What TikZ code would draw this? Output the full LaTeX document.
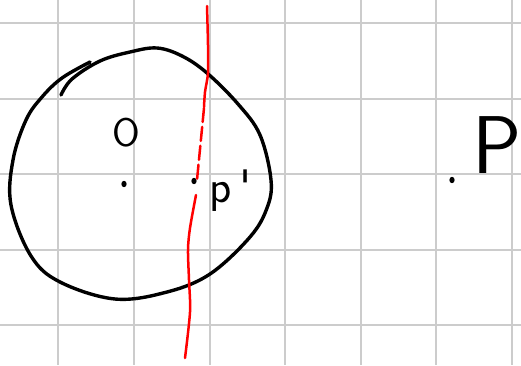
\documentclass[tikz,border=0pt]{standalone}
\usepackage{tikz}
\usetikzlibrary{positioning}
\tikzset{
  gridline/.style={draw=black!20, line width=2pt},
  outline/.style={draw=black, line width=3.4pt, line cap=round, line join=round},
  redline/.style={draw=red, line width=2.5pt, line cap=round, line join=round},
  dotmark/.style={fill=black},
  lbl/.style={inner sep=0pt, anchor=base, font=\sffamily},
}

\begin{document}
\begin{tikzpicture}[x=1pt, y=-1pt]
  \useasboundingbox[fill=white] (0,0) rectangle (521,365);

  % squared paper
  \foreach \i in {0,...,6}
    \draw[gridline] ({58.4+75.6*\i},0) -- ({58.4+75.6*\i},365);
  \foreach \j in {0,...,4}
    \draw[gridline] (0,{23+75.6*\j}) -- (521,{23+75.6*\j});

  % the circle, drawn by hand
  \draw[outline] plot[smooth, tension=0.6] coordinates {
    (61,95) (72,79) (100,61) (130,52) (157,48) (182,56) (207,73)
    (238,104) (260,135) (271,180) (267,208) (250,237)
    (210,274) (167,292) (115,299) (60,282) (31,256)
    (11,205) (13,160) (26,120) (42,97) (62,78) (90,62)};

  % red line
  \draw[redline] plot[smooth, tension=0.5] coordinates {
    (207,6) (208,45) (208,73) (205,92) (204,107)};
  \draw[redline, dash pattern=on 14pt off 5pt] (204,108) -- (197,180);
  \draw[redline] plot[smooth, tension=0.5] coordinates {
    (196,195) (190,228) (188,250) (189,280) (190,312) (185,358)};

  % points
  \coordinate (O) at (124,184);
  \coordinate (Pin) at (194,181);
  \coordinate (Pout) at (452,180);
  \foreach \c in {O, Pin, Pout}
    \fill[dotmark] (\c) ellipse (2.6 and 3.2);

  \node[lbl, font=\sffamily\fontsize{40}{40}\selectfont] (Olbl) at (126,146) {O};
  \node[lbl, anchor=base west, font=\sffamily\fontsize{46}{46}\selectfont] (Pinlbl) at (209,202) {p\,\textquotesingle};
  \node[lbl, font=\sffamily\fontsize{82}{82}\selectfont] (Poutlbl) at (497,173) {P};
\end{tikzpicture}
\end{document}
